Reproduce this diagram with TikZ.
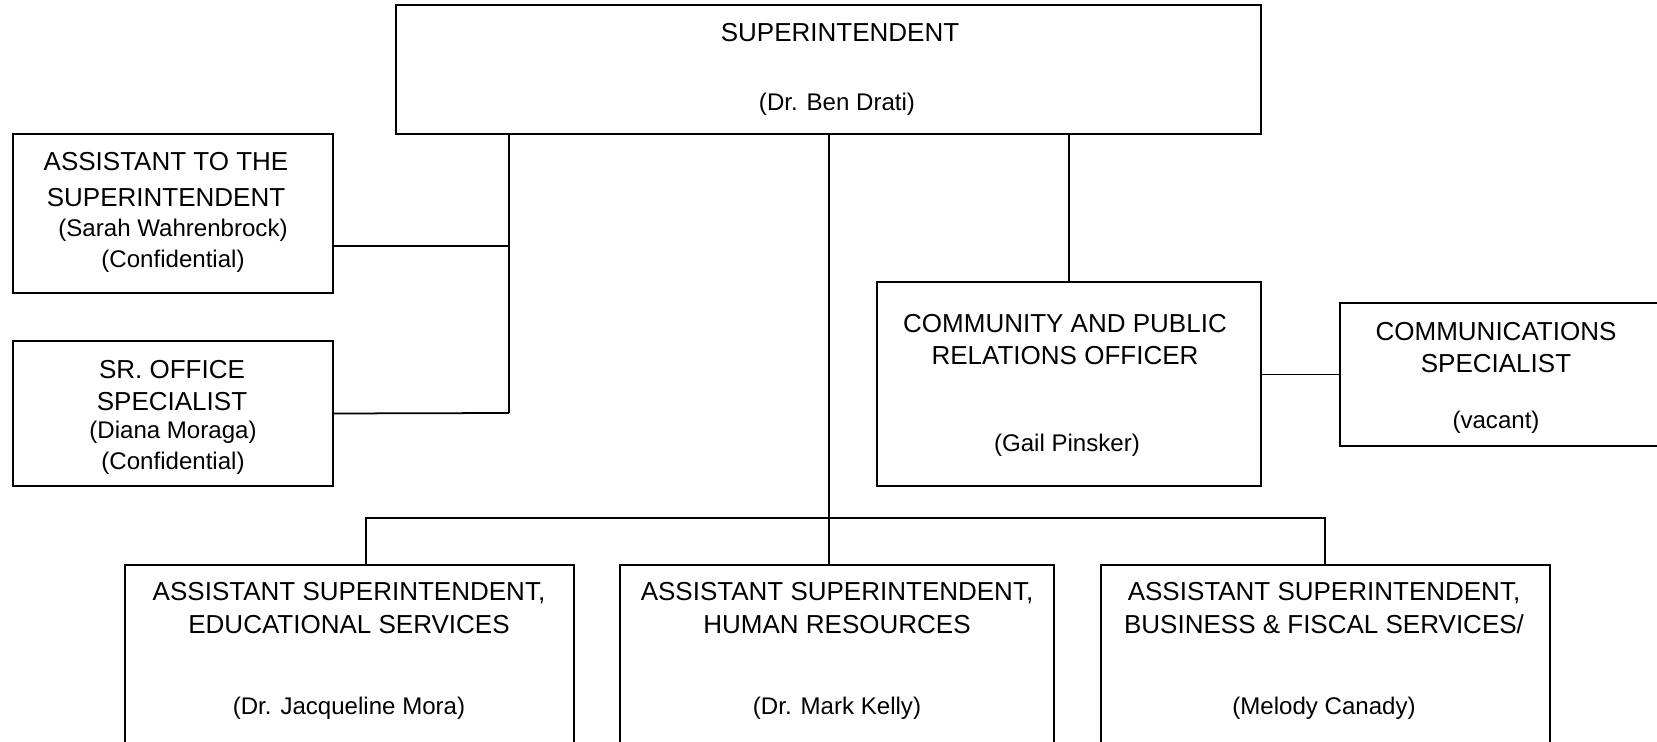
\documentclass[tikz,border=0pt]{standalone}
\usepackage{fontspec}
\setmainfont{Liberation Sans}
\usetikzlibrary{positioning, calc}

\newcommand{\ttlfont}{\fontsize{14.8}{18.5}\selectfont}
\newcommand{\whofont}{\fontsize{13.7}{17.8}\selectfont}

\begin{document}
\begin{tikzpicture}[
    x=0.02cm, y=-0.02cm,
    box/.style={
        rectangle, draw=black, line width=1.1pt,
        inner sep=0pt
    },
    topbox/.style={box, minimum height=4.7cm},
    title/.style={align=center, inner sep=0pt, font=\ttlfont},
    who/.style={align=center, inner sep=0pt, font=\whofont},
    link/.style={draw=black, line width=1pt}
]

\path[use as bounding box, clip] (0,0) rectangle (1657,742);

% ============ Superintendent ============
\node[box, minimum width=17.3cm, minimum height=2.58cm] (supt) at (828.5,69.5) {};
\node[title] (supt-t) at (840,33) {SUPERINTENDENT};
\node[who] (supt-n) at (837,104) {(Dr. Ben Drati)};

% ============ Confidential staff ============
\node[box, minimum width=6.4cm, minimum height=3.18cm] (ats) at (173,213.5) {};
\node[title] (ats-t) at (166,180) {ASSISTANT TO THE\\[2pt]SUPERINTENDENT};
\node[who] (ats-n) at (173,245.5) {(Sarah Wahrenbrock)\\(Confidential)};

\node[box, minimum width=6.4cm, minimum height=2.9cm] (sro) at (173,413.5) {};
\node[title] (sro-t) at (172,385.5) {SR. OFFICE\\SPECIALIST};
\node[who] (sro-n) at (173,447.5) {(Diana Moraga)\\(Confidential)};

% ============ Public relations ============
\node[box, minimum width=7.68cm, minimum height=4.08cm] (cpr) at (1069,384) {};
\node[title] (cpr-t) at (1065,339.5) {COMMUNITY AND PUBLIC\\RELATIONS OFFICER};
\node[who] (cpr-n) at (1067,445) {(Gail Pinsker)};

\node[box, minimum width=6.8cm, minimum height=2.86cm] (comm) at (1510,374.5) {};
\node[title] (comm-t) at (1496,347.5) {COMMUNICATIONS\\SPECIALIST};
\node[who] (comm-n) at (1496,422.5) {(vacant)};

% ============ Assistant superintendents ============
\node[topbox, minimum width=8.98cm] (edu) at (349.5,682.5) {};
\node[title] (edu-t) at (349,608) {ASSISTANT SUPERINTENDENT,\\EDUCATIONAL SERVICES};
\node[who] (edu-n) at (349,708) {(Dr. Jacqueline Mora)};

\node[topbox, minimum width=8.68cm] (hr) at (837,682.5) {};
\node[title] (hr-t) at (837,608) {ASSISTANT SUPERINTENDENT,\\HUMAN RESOURCES};
\node[who] (hr-n) at (837,708) {(Dr. Mark Kelly)};

\node[topbox, minimum width=8.98cm] (bus) at (1325.5,682.5) {};
\node[title] (bus-t) at (1324,608) {ASSISTANT SUPERINTENDENT,\\BUSINESS \& FISCAL SERVICES/};
\node[who] (bus-n) at (1324,708) {(Melody Canady)};

% ============ Joints ============
\coordinate (lj) at (509,413);
\coordinate (atsj) at (509,246);
\coordinate (mj) at (829,518);
\coordinate (bl) at (366,518);
\coordinate (br) at (1325,518);

% ============ Connectors ============
\draw[link] (supt.south -| lj) -- (lj);
\draw[link] (ats.east |- atsj) -- (atsj);
\draw[link] (sro.east) -- (lj);

\draw[link] (cpr.north |- supt.south) -- (cpr.north);
\draw[link] (cpr.east |- comm.west) -- (comm.west);

\draw[link] (supt.south -| mj) -- (mj) -- (mj |- hr.north);
\draw[link] (edu.north -| bl) -- (bl) -- (br) -- (br |- bus.north);

\end{tikzpicture}
\end{document}
